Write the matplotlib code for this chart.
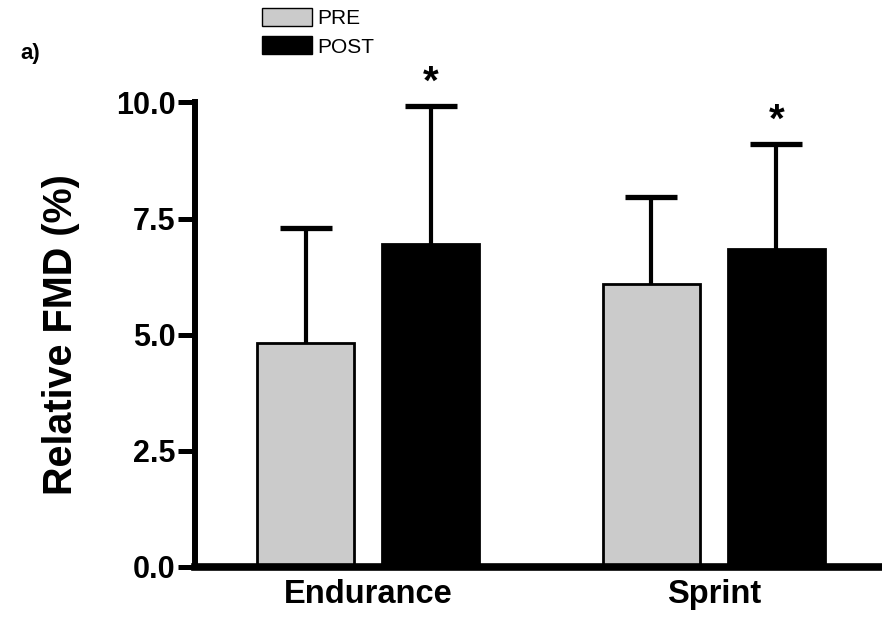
import matplotlib
matplotlib.use("Agg")
import matplotlib.pyplot as plt
import numpy as np
from matplotlib.patches import Patch

plt.rcParams["font.family"] = ["Liberation Sans", "DejaVu Sans"]

# Relative FMD (%) before and after training, mean and SD
groups = ["Endurance", "Sprint"]
pre_mean = [4.82, 6.09]
pre_sd = [2.48, 1.87]
post_mean = [6.95, 6.85]
post_sd = [2.97, 2.26]
significant = [True, True]  # POST vs PRE
yticks = [0.0, 2.5, 5.0, 7.5, 10.0]

PRE_COLOR = "#cbcbcb"
BAR_W = 0.281
OFFSET = 0.181
CAP_HALF = 0.075

fig = plt.figure(figsize=(8.82, 6.21), dpi=100)
ax = fig.add_axes([0.221, 0.087, 0.779, 0.748])

x = np.arange(len(groups))
pre_x = x - OFFSET
post_x = x + OFFSET

ax.bar(pre_x, pre_mean, width=BAR_W, color=PRE_COLOR, edgecolor="black",
       linewidth=2, zorder=2)
ax.bar(post_x, post_mean, width=BAR_W, color="black", edgecolor="black",
       linewidth=2, zorder=2)

# upper-only error bars
for xs, m, sd in ((pre_x, pre_mean, pre_sd), (post_x, post_mean, post_sd)):
    top = np.array(m) + np.array(sd)
    ax.vlines(xs, m, top, color="black", linewidth=3, zorder=3)
    ax.hlines(top, xs - CAP_HALF, xs + CAP_HALF, color="black",
              linewidth=3.8, zorder=3)

for xs, m, sd, sig in zip(post_x, post_mean, post_sd, significant):
    if sig:
        ax.annotate("*", xy=(xs, m + sd), xytext=(0, 9),
                    textcoords="offset points", ha="center", va="baseline",
                    fontsize=29, fontweight="bold")

ax.set_xlim(-0.5025, 1.487)
ax.set_ylim(0, 10)
ax.set_yticks(yticks, [f"{v:.1f}" for v in yticks])
ax.set_xticks(x, groups)

for side in ("top", "right"):
    ax.spines[side].set_visible(False)
ax.spines["left"].set_linewidth(4.3)
ax.spines["bottom"].set_linewidth(5.5)

ax.tick_params(axis="x", length=0, pad=9, labelsize=23.5)
ax.tick_params(axis="y", length=12, width=3.6, pad=2, labelsize=22)
for lab in ax.get_xticklabels() + ax.get_yticklabels():
    lab.set_fontweight("bold")

ax.set_ylabel("Relative FMD (%)", fontsize=28.5, fontweight="bold")
ax.yaxis.set_label_coords(-0.167, 0.5)

handles = [Patch(facecolor=PRE_COLOR, edgecolor="black", linewidth=1),
           Patch(facecolor="black", edgecolor="black")]
fig.legend(handles, ["PRE", "POST"], loc="upper left",
           bbox_to_anchor=(262 / 882, 1 - 8 / 621), frameon=False,
           fontsize=15, handlelength=2.4, handleheight=0.95,
           handletextpad=0.25, labelspacing=0.4, borderpad=0,
           borderaxespad=0)

fig.text(20 / 882, 1 - 54 / 621, "a)", fontsize=16, fontweight="bold",
         va="center", ha="left")

fig.savefig("out.png", dpi=100)
